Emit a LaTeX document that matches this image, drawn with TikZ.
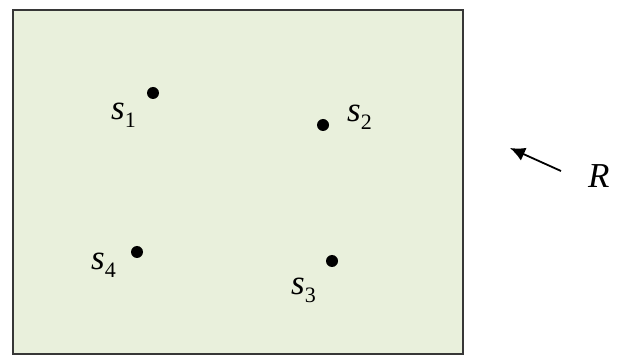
\documentclass[tikz,border=0pt]{standalone}
\usepackage{fontspec}
\setmainfont{Liberation Serif}
\usetikzlibrary{arrows.meta, positioning}

\definecolor{panelgreen}{RGB}{233,240,220}
\definecolor{framegray}{RGB}{55,55,55}
\newcommand{\sitelbl}[1]{\itshape s\raisebox{-8pt}{\fontsize{22}{22}\selectfont\upshape #1}}

\begin{document}
\begin{tikzpicture}[x=1pt, y=-1pt, font=\fontsize{35}{40}\selectfont]
    \useasboundingbox (0,0) rectangle (619,358);

    \node (region) [draw=framegray, line width=2pt, fill=panelgreen, minimum width=450pt, minimum height=344pt, inner sep=0, anchor=north west] at (12,9) {};

    \tikzset{dot/.style={circle, fill=black, inner sep=0, minimum size=12pt},
             lbl/.style={anchor=base west, inner sep=0}}

    \node (p1) [dot] at (153,93) {};
    \node (p2) [dot] at (323,125) {};
    \node (p3) [dot] at (332,261) {};
    \node (p4) [dot] at (137,252) {};

    \node (s1) [lbl] at (111,120) {\sitelbl{1}};
    \node (s2) [lbl] at (347,122) {\sitelbl{2}};
    \node (s3) [lbl] at (291,295) {\sitelbl{3}};
    \node (s4) [lbl] at (91,270) {\sitelbl{4}};

    \coordinate (rtail) at (561,171);
    \coordinate (rtip) at (510,148);
    \draw [-{Latex[length=15pt, width=14pt]}, line width=1.8pt] (rtail) -- (rtip);
    \node (rlab) [lbl] at (588,188) {\itshape R};
\end{tikzpicture}
\end{document}
